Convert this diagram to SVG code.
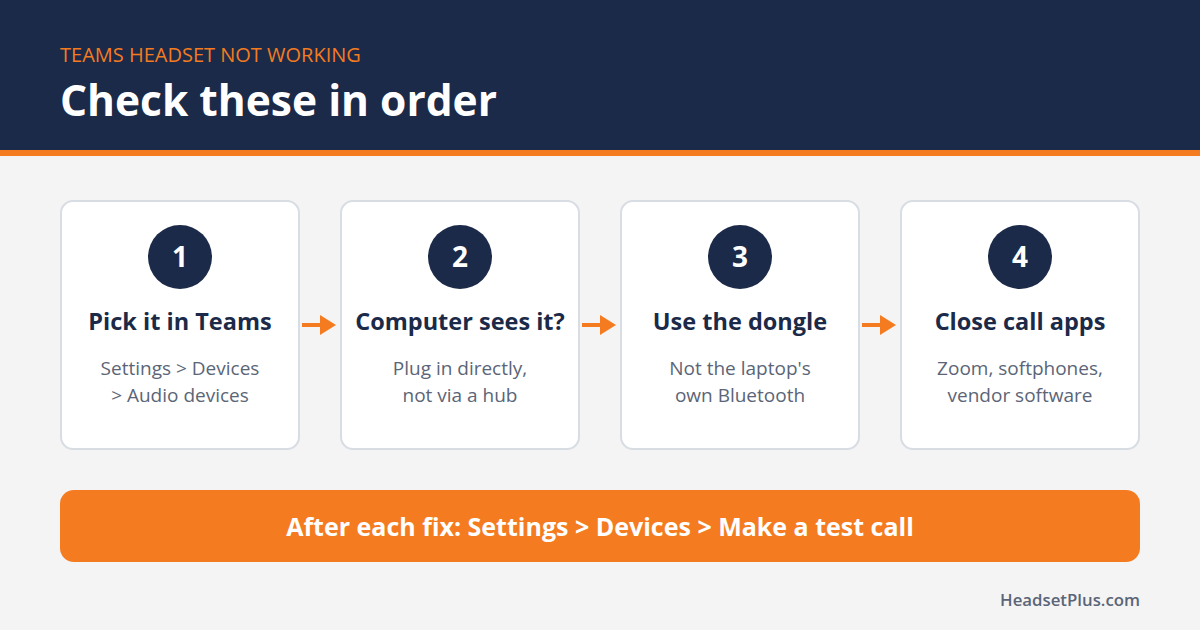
<svg xmlns="http://www.w3.org/2000/svg" width="1200" height="630" viewBox="0 0 1200 630">
<defs>
<style>
text{font-family:"Open Sans","Noto Sans","Liberation Sans",sans-serif}
.card{fill:#ffffff;stroke:#d8dce3;stroke-width:2}
.num{fill:#1b2a48}
.numt{fill:#ffffff;font-size:28px;font-weight:700;text-anchor:middle}
.title{fill:#1b2a48;font-size:23.5px;font-weight:700;text-anchor:middle}
.desc{fill:#5b6577;font-size:19px;text-anchor:middle}
.arrow{stroke:#f47b20;stroke-width:4;fill:none}
.head{fill:#f47b20}
</style>
</defs>
<rect width="1200" height="630" fill="#f4f4f4"/>
<g id="header">
<rect x="0" y="0" width="1200" height="150" fill="#1b2a48"/>
<rect x="0" y="150" width="1200" height="6" fill="#f47b20"/>
<text x="60" y="62" font-size="20" font-weight="500" fill="#f47b20">TEAMS HEADSET NOT WORKING</text>
<text x="60" y="116" font-size="42.5" font-weight="700" fill="#ffffff">Check these in order</text>
</g>
<g id="step1">
<rect class="card" x="61" y="201" width="238" height="248" rx="12"/>
<circle class="num" cx="180" cy="257" r="32"/>
<text class="numt" x="180" y="267">1</text>
<text class="title" x="180" y="330">Pick it in Teams</text>
<text class="desc" x="180" y="375">Settings &gt; Devices</text>
<text class="desc" x="180" y="402">&gt; Audio devices</text>
</g>
<g id="step2">
<rect class="card" x="341" y="201" width="238" height="248" rx="12"/>
<circle class="num" cx="460" cy="257" r="32"/>
<text class="numt" x="460" y="267">2</text>
<text class="title" x="460" y="330">Computer sees it?</text>
<text class="desc" x="460" y="375">Plug in directly,</text>
<text class="desc" x="460" y="402">not via a hub</text>
</g>
<g id="step3">
<rect class="card" x="621" y="201" width="238" height="248" rx="12"/>
<circle class="num" cx="740" cy="257" r="32"/>
<text class="numt" x="740" y="267">3</text>
<text class="title" x="740" y="330">Use the dongle</text>
<text class="desc" x="740" y="375">Not the laptop's</text>
<text class="desc" x="740" y="402">own Bluetooth</text>
</g>
<g id="step4">
<rect class="card" x="901" y="201" width="238" height="248" rx="12"/>
<circle class="num" cx="1020" cy="257" r="32"/>
<text class="numt" x="1020" y="267">4</text>
<text class="title" x="1020" y="330">Close call apps</text>
<text class="desc" x="1020" y="375">Zoom, softphones,</text>
<text class="desc" x="1020" y="402">vendor software</text>
</g>
<g id="connectors">
<line class="arrow" x1="302" y1="325" x2="322" y2="325"/>
<polygon class="head" points="320,315 336,325 320,335"/>
<line class="arrow" x1="582" y1="325" x2="602" y2="325"/>
<polygon class="head" points="600,315 616,325 600,335"/>
<line class="arrow" x1="862" y1="325" x2="882" y2="325"/>
<polygon class="head" points="880,315 896,325 880,335"/>
</g>
<g id="banner">
<rect x="60" y="490" width="1080" height="72" rx="14" fill="#f47b20"/>
<text x="600" y="536" font-size="25" font-weight="700" fill="#ffffff" text-anchor="middle">After each fix: Settings &gt; Devices &gt; Make a test call</text>
</g>
<g id="footer">
<text x="1140" y="606" font-size="16.8" font-weight="600" fill="#5b6577" text-anchor="end">HeadsetPlus.com</text>
</g>
</svg>
